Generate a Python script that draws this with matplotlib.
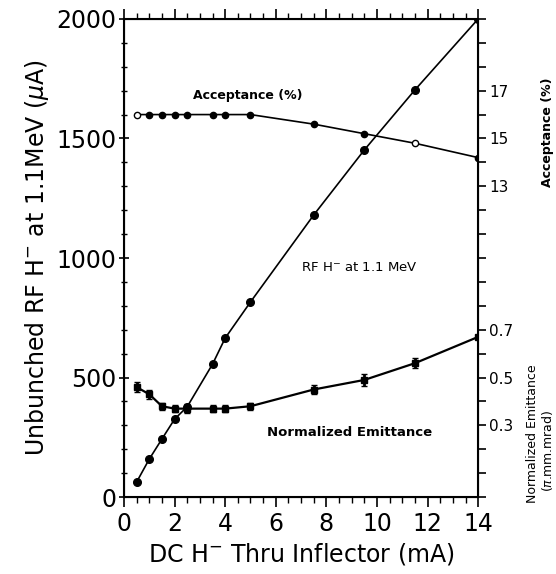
import numpy as np
import matplotlib.pyplot as plt
from matplotlib.ticker import FixedLocator, FixedFormatter, MultipleLocator

# DC H- through inflector (mA)
x_rf = [0.5, 1.0, 1.5, 2.0, 2.5, 3.5, 4.0, 5.0, 7.5, 9.5, 11.5, 14.0]
rf_current = [63, 159, 243, 326, 378, 556, 665, 816, 1180, 1452, 1703, 2000]  # uA

x_acc = [0.5, 1.0, 1.5, 2.0, 2.5, 3.5, 4.0, 5.0, 7.5, 9.5, 11.5, 14.0]
acceptance = [16.0, 16.0, 16.0, 16.0, 16.0, 16.0, 16.0, 16.0, 15.6, 15.2, 14.8, 14.2]  # %
acc_open = [True, False, False, False, False, False, False, False, False, False, True, False]

x_emit = [0.5, 1.0, 1.5, 2.0, 2.5, 3.5, 4.0, 5.0, 7.5, 9.5, 11.5, 14.0]
emittance = [0.46, 0.43, 0.38, 0.37, 0.37, 0.37, 0.37, 0.38, 0.45, 0.49, 0.56, 0.67]  # pi.mm.mrad
emit_err = [0.02, 0.02, 0.015, 0.015, 0.02, 0.015, 0.015, 0.015, 0.02, 0.025, 0.02, 0.0]

plt.rcParams['font.family'] = ['DejaVu Sans']

fig = plt.figure(figsize=(5.56, 5.74), dpi=100)
ax = fig.add_axes([0.223, 0.134, 0.637, 0.833])

# RF H- current
ax.plot(x_rf, rf_current, '-o', color='black', lw=1.2, ms=5.5)

# acceptance, drawn on the left scale (1 % = 100 units)
acc_y = np.array(acceptance) * 100
ax.plot(x_acc, acc_y, '-', color='black', lw=1.2)
for xi, yi, op in zip(x_acc, acc_y, acc_open):
    ax.plot(xi, yi, 'o', ms=4.5, mec='black', mew=1.0,
            mfc='white' if op else 'black')

# emittance, drawn on the left scale (0.1 = 100 units)
em_y = np.array(emittance) * 1000
em_e = np.array(emit_err) * 1000
ax.errorbar(x_emit, em_y, yerr=em_e, fmt='-s', color='black', lw=1.6,
            ms=4.5, capsize=2.5, elinewidth=2.0)

ax.set_xlim(0, 14)
ax.set_ylim(0, 2000)
ax.xaxis.set_major_locator(MultipleLocator(2))
ax.xaxis.set_minor_locator(MultipleLocator(0.5))
ax.yaxis.set_major_locator(MultipleLocator(500))
ax.yaxis.set_minor_locator(MultipleLocator(100))
ax.tick_params(axis='both', which='major', labelsize=17, length=7, width=1.2,
               direction='out', top=True, right=False)
ax.tick_params(axis='both', which='minor', length=4, width=1.0,
               direction='out', top=True, right=False)
ax.tick_params(axis='y', which='both', direction='inout')
ax.tick_params(axis='y', which='major', pad=2)
for s in ax.spines.values():
    s.set_linewidth(1.5)

ax.set_xlabel('DC H$^{-}$ Thru Inflector (mA)', fontsize=17, labelpad=4)
ax.set_ylabel('Unbunched RF H$^{-}$ at 1.1MeV ($\\mu$A)', fontsize=17, labelpad=4)

# right hand scales
ax2 = ax.twinx()
ax2.set_ylim(0, 2000)
right_pos = list(range(0, 2001, 100))
right_lab = {300: '0.3', 500: '0.5', 700: '0.7', 1300: '13', 1500: '15', 1700: '17'}
ax2.yaxis.set_major_locator(FixedLocator(right_pos))
ax2.yaxis.set_major_formatter(FixedFormatter([right_lab.get(p, '') for p in right_pos]))
ax2.tick_params(axis='y', length=6, width=1.2, direction='out', labelsize=11, pad=2)

fig.text(0.985, 0.77, 'Acceptance (%)', rotation=90, fontsize=9,
         fontweight='bold', ha='center', va='center')
fig.text(0.958, 0.245, 'Normalized Emittance', rotation=90, fontsize=9,
         ha='center', va='center')
fig.text(0.985, 0.215, '($\\pi$.mm.mrad)', rotation=90, fontsize=9,
         ha='center', va='center')

ax.text(4.9, 1680, 'Acceptance (%)', fontsize=9, fontweight='bold',
        ha='center', va='center')
ax.text(9.3, 960, 'RF H$^{-}$ at 1.1 MeV', fontsize=9.5,
        ha='center', va='center')
ax.text(8.9, 270, 'Normalized Emittance', fontsize=9.5, fontweight='bold',
        ha='center', va='center')

fig.savefig('out.png', dpi=100, facecolor='white')
